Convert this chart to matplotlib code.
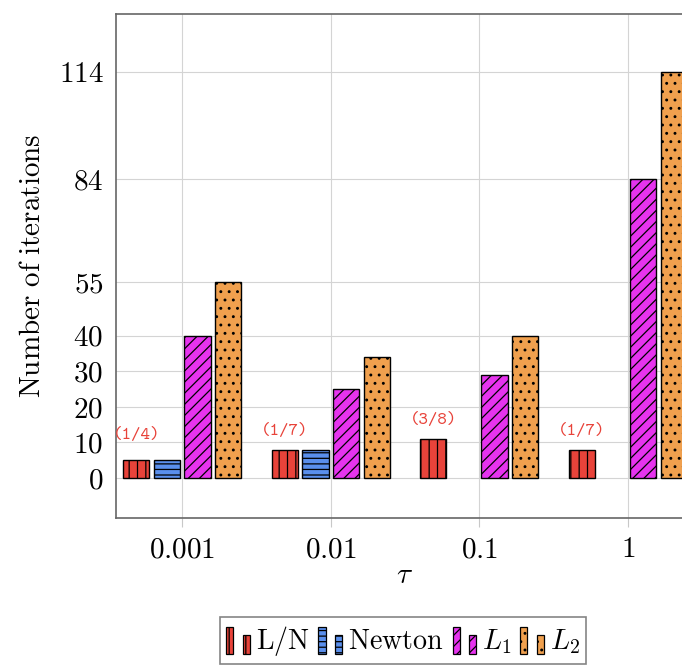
import matplotlib
matplotlib.use('Agg')
import matplotlib.pyplot as plt
from matplotlib.patches import Rectangle
from matplotlib.legend_handler import HandlerBase
from matplotlib.container import BarContainer

plt.rcParams['font.family'] = 'cmr10'
plt.rcParams['mathtext.fontset'] = 'cm'
plt.rcParams['axes.formatter.use_mathtext'] = True
plt.rcParams['hatch.linewidth'] = 0.9

# data
taus = ['0.001', '0.01', '0.1', '1']
ln_iters = [5, 8, 11, 8]
newton_iters = [5, 8, None, None]
l1_iters = [40, 25, 29, 84]
l2_iters = [55, 34, 40, 114]
ratio_labels = ['(1/4)', '(1/7)', '(3/8)', '(1/7)']
ratio_label_y = [12, 13, 16.3, 13]
yticks = [0, 10, 20, 30, 40, 55, 84, 114]

series = [
    (r'$\mathrm{L/N}$', ln_iters, '#E8433A', '||'),
    (r'$\mathrm{Newton}$', newton_iters, '#5A8FEC', '---'),
    (r'$L_1$', l1_iters, '#E633EE', '///'),
    (r'$L_2$', l2_iters, '#F0A04E', '..'),
]


class TwoBarHandler(HandlerBase):
    # pgfplots style ybar legend: two small bars
    def create_artists(self, legend, orig_handle, xdescent, ydescent,
                       width, height, fontsize, trans):
        p = orig_handle.patches[0]
        bw = width * 0.3
        y0 = -ydescent - height * 0.2
        h = height * 1.25
        arts = []
        for x, hh in [(0, h), (width - bw, h * 0.72)]:
            r = Rectangle((x - xdescent, y0), bw, hh, facecolor=p.get_facecolor(),
                          edgecolor='black', hatch=p.get_hatch(), lw=0.9,
                          transform=trans)
            arts.append(r)
        return arts


fig = plt.figure(figsize=(6.82, 6.68), dpi=100)
ax = fig.add_axes([116 / 682, 150 / 668, 578 / 682, 504 / 668])

step = 0.206
width = 0.176
handles = []
for i, (label, vals, color, hatch) in enumerate(series):
    xs = [j + (i - 1.5) * step for j, v in enumerate(vals) if v is not None]
    hs = [v for v in vals if v is not None]
    bc = ax.bar(xs, hs, width=width, color=color, edgecolor='black',
                linewidth=1.0, hatch=hatch, label=label, zorder=3)
    handles.append(bc)

for j, txt in enumerate(ratio_labels):
    ax.text(j - 1.5 * step, ratio_label_y[j], txt, color='#E8433A',
            family='cmtt10', fontsize=13, ha='center', va='center', zorder=4)

ax.set_xlim(-0.446, 3.446)
ax.set_ylim(-11.2, 130.3)
ax.set_xticks(range(len(taus)))
ax.set_xticklabels(['$' + t + '$' for t in taus], fontsize=21)
ax.set_yticks(yticks)
ax.set_yticklabels(['$%d$' % t for t in yticks], fontsize=21)
ax.tick_params(axis='x', direction='out', length=6.5, width=0.8,
               color='#c8c8c8', pad=7)
ax.tick_params(axis='y', length=0, pad=9)
ax.grid(True, color='#d4d4d4', linewidth=0.8, zorder=0)
ax.set_axisbelow(True)
for s in ax.spines.values():
    s.set_color('#666666')
    s.set_linewidth(1.2)

ax.set_xlabel(r'$\tau$', fontsize=21, labelpad=0)
ax.set_ylabel(r'$\mathrm{Number\ of\ iterations}$', fontsize=21, labelpad=9)

leg = fig.legend(handles=handles, loc='upper center',
                 bbox_to_anchor=(403 / 682, (668 - 617) / 668), ncol=4,
                 fontsize=20.2, handler_map={BarContainer: TwoBarHandler()},
                 handlelength=0.85, handleheight=0.8, handletextpad=0.2,
                 columnspacing=0.32, borderpad=0.24, borderaxespad=0,
                 fancybox=False, frameon=True)
leg.get_frame().set_edgecolor('#666666')
leg.get_frame().set_linewidth(1.2)

fig.savefig('out.png', dpi=100)
